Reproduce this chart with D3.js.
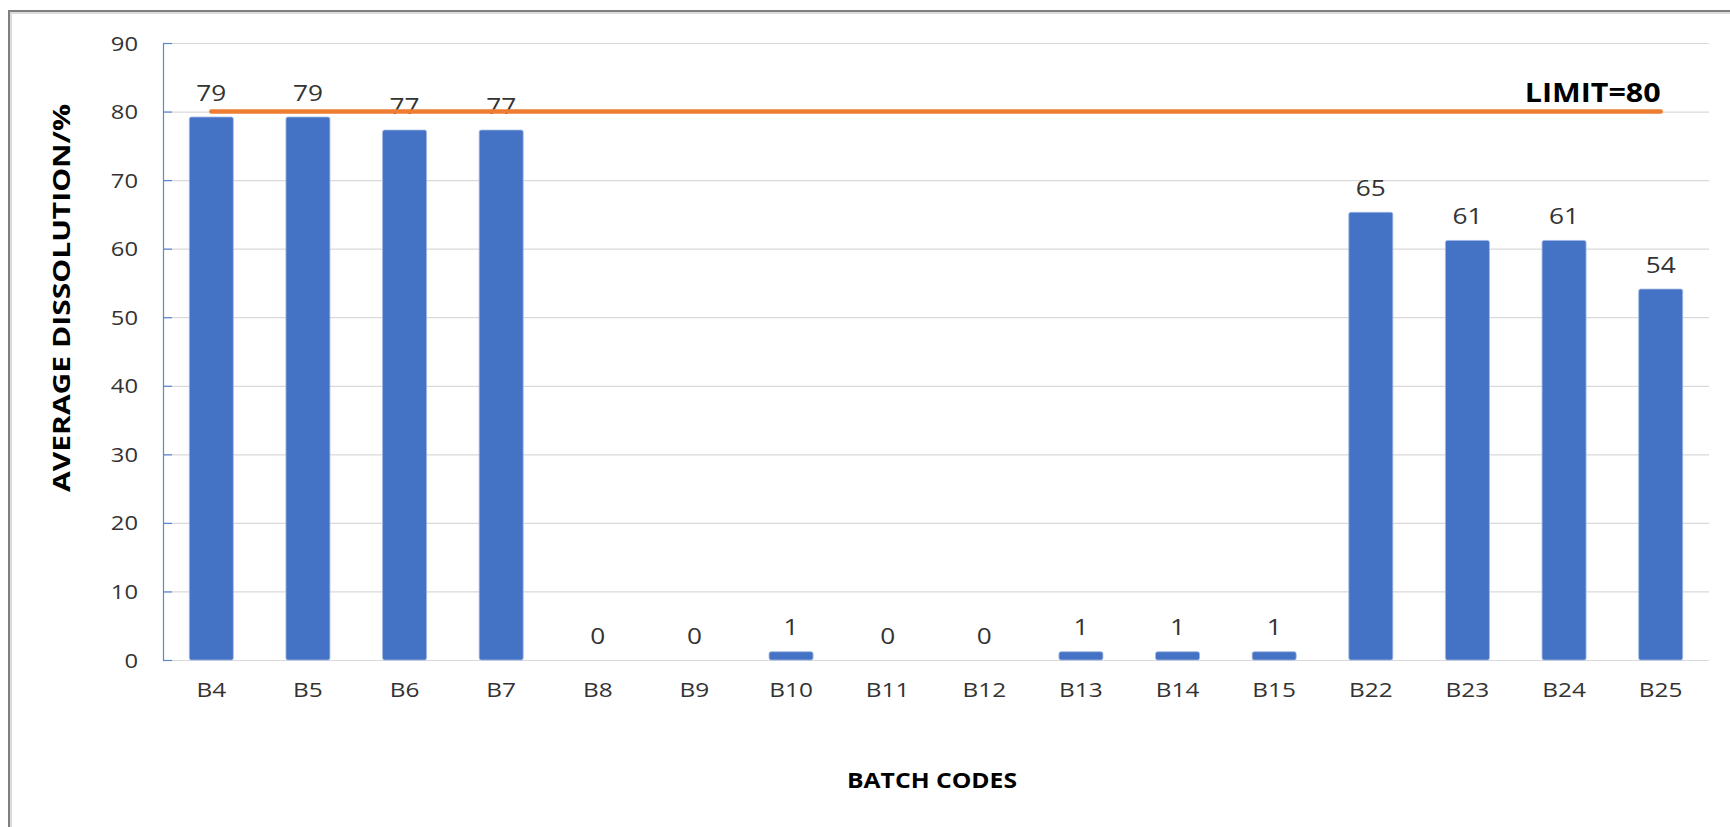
<!DOCTYPE html>
<html>
<head>
<meta charset="utf-8">
<script src="https://cdn.jsdelivr.net/npm/d3@7"></script>
<style>
  html, body { margin: 0; padding: 0; background: #ffffff; }
  svg { display: block; }
</style>
</head>
<body>
<script>
// ---- data ----
const categories = ["B4","B5","B6","B7","B8","B9","B10","B11","B12","B13","B14","B15","B22","B23","B24","B25"];
const dissolution = [79.2, 79.2, 77.3, 77.3, 0, 0, 1.2, 0, 0, 1.2, 1.2, 1.2, 65.3, 61.2, 61.2, 54.1];
const limitValues = [80, 80, 80, 80, 80, 80, 80, 80, 80, 80, 80, 80, 80, 80, 80, 80];
const limitLabel = "LIMIT=80";
const yTicks = [0, 10, 20, 30, 40, 50, 60, 70, 80, 90];
const xTitle = "BATCH CODES";
const yTitle = "AVERAGE DISSOLUTION/%";

// ---- layout ----
const W = 1730, H = 827;
const plot = { left: 163, right: 1709, top: 43, bottom: 660 };
const SX = 1.22; // horizontal glyph stretch of the original picture
const numFont = "'Open Sans', 'Noto Sans', sans-serif";
const txtColor = "#333333";

const svg = d3.select("body").append("svg").attr("width", W).attr("height", H);

// outer frame (only top and left edges visible)
svg.append("rect").attr("x", 9).attr("y", 11).attr("width", W + 20).attr("height", H + 20)
  .attr("fill", "none").attr("stroke", "#7f7f7f").attr("stroke-width", 2);
svg.append("rect").attr("x", 11).attr("y", 13).attr("width", W + 20).attr("height", H + 20)
  .attr("fill", "none").attr("stroke", "#dcdcdc").attr("stroke-width", 2);

const x = d3.scaleBand().domain(categories).range([plot.left, plot.right])
  .paddingInner(0.545).paddingOuter(0.2725);
const y = d3.scaleLinear().domain([0, 90]).range([plot.bottom, plot.top]);

// gridlines
const grid = svg.append("g").attr("transform", `translate(${plot.left},0)`)
  .call(d3.axisLeft(y).tickValues(yTicks).tickSize(-(plot.right - plot.left)).tickFormat(""));
grid.select(".domain").remove();
grid.selectAll("line").attr("stroke", "#d9d9d9").attr("stroke-width", 1.2);

// bars
svg.append("g").selectAll("rect").data(dissolution).join("rect")
  .attr("x", (d, i) => x(categories[i]))
  .attr("y", d => y(d))
  .attr("width", x.bandwidth())
  .attr("height", d => y(0) - y(d))
  .attr("rx", 2).attr("ry", 2)
  .attr("fill", "#4472c4")
  .attr("stroke", d => d > 0 ? "#9db5e2" : "none")
  .attr("stroke-width", 0.8);

// y axis (blue line, inward ticks)
const yAxis = svg.append("g").attr("transform", `translate(${plot.left},0)`)
  .call(d3.axisLeft(y).tickValues(yTicks).tickSizeInner(-9).tickSizeOuter(0).tickPadding(0));
yAxis.select(".domain").attr("stroke", "#5b87d1").attr("stroke-width", 1.2);
yAxis.selectAll(".tick line").attr("stroke", "#5b87d1").attr("stroke-width", 1.2);
yAxis.selectAll(".tick text")
  .attr("x", -25 / SX).attr("dy", "0.36em")
  .attr("transform", `scale(${SX},1)`)
  .attr("text-anchor", "end")
  .style("font-family", numFont).style("font-size", "19.5px").attr("fill", txtColor);

// x axis labels
const xAxis = svg.append("g").attr("transform", `translate(0,${plot.bottom})`)
  .call(d3.axisBottom(x).tickSize(0));
xAxis.select(".domain").remove();
xAxis.selectAll(".tick text")
  .attr("y", 37.5).attr("dy", 0)
  .attr("transform", `scale(${SX},1)`)
  .style("font-family", numFont).style("font-size", "20px").attr("fill", txtColor);

// data labels
svg.append("g").selectAll("text").data(dissolution).join("text")
  .attr("transform", (d, i) => `translate(${x(categories[i]) + x.bandwidth() / 2},${y(d) - 16.5}) scale(${SX},1)`)
  .attr("text-anchor", "middle")
  .style("font-family", numFont).style("font-size", "21.5px").attr("fill", txtColor)
  .text(d => d3.format(".0f")(d));

// limit line
const line = d3.line()
  .x((d, i) => x(categories[i]) + x.bandwidth() / 2)
  .y(d => y(d));
svg.append("path").datum(limitValues)
  .attr("d", line)
  .attr("fill", "none").attr("stroke", "#ed7d31").attr("stroke-width", 4.5)
  .attr("stroke-linecap", "round");

const lastX = x(categories[categories.length - 1]) + x.bandwidth() / 2;
svg.append("text")
  .attr("x", lastX).attr("y", y(limitValues[limitValues.length - 1]) - 10)
  .attr("text-anchor", "end")
  .attr("textLength", 136).attr("lengthAdjust", "spacingAndGlyphs")
  .style("font-family", numFont).style("font-weight", "bold").style("font-size", "26px")
  .attr("fill", "#000")
  .text(limitLabel);

// axis titles
svg.append("text")
  .attr("x", (plot.left + plot.right) / 2 - 4).attr("y", 788)
  .attr("text-anchor", "middle")
  .attr("textLength", 170).attr("lengthAdjust", "spacingAndGlyphs")
  .style("font-family", numFont).style("font-weight", "bold").style("font-size", "21px")
  .attr("fill", "#000")
  .text(xTitle);

svg.append("text")
  .attr("transform", `translate(70,298) rotate(-90)`)
  .attr("text-anchor", "middle")
  .attr("textLength", 388).attr("lengthAdjust", "spacingAndGlyphs")
  .style("font-family", numFont).style("font-weight", "bold").style("font-size", "23px")
  .attr("fill", "#000")
  .text(yTitle);
</script>
</body>
</html>
